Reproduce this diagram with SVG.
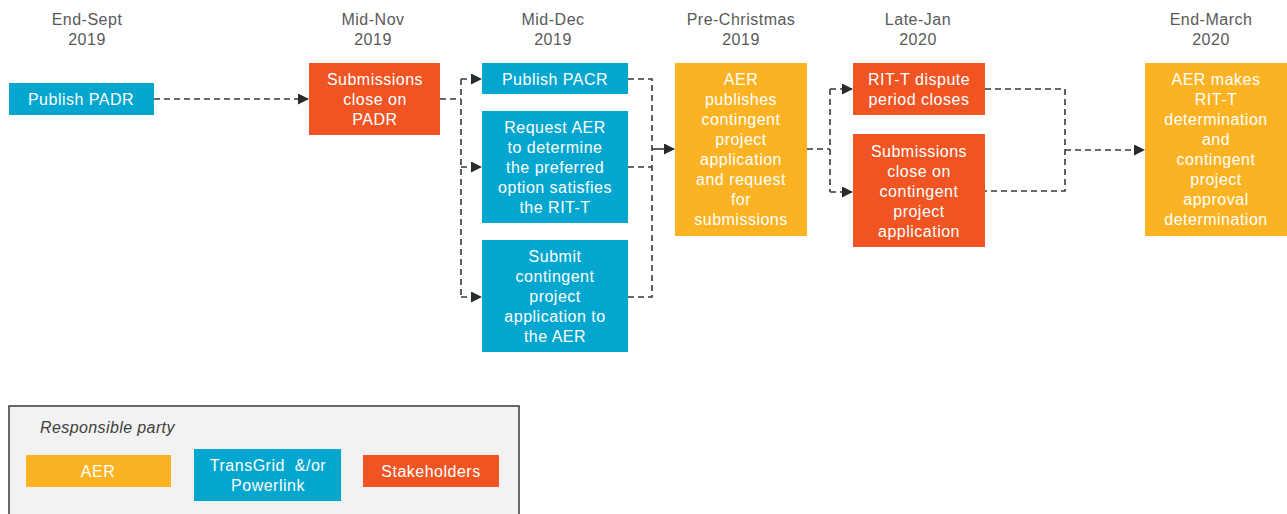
<svg xmlns="http://www.w3.org/2000/svg" width="1287" height="514" viewBox="0 0 1287 514">
<style>
.hdr{font-family:"Liberation Sans",Arial,sans-serif;font-size:16px;letter-spacing:0.5px;fill:#595959;text-anchor:middle}
.bt{font-family:"Liberation Sans",Arial,sans-serif;font-size:16px;letter-spacing:0.5px;fill:#ffffff;text-anchor:middle}
.blue{fill:#02A6CF}
.red{fill:#F15423}
.yel{fill:#FBB323}
.dash{fill:none;stroke:#333a40;stroke-width:1.6;stroke-dasharray:6 4}
.solid{fill:none;stroke:#333a40;stroke-width:1.6}
.leg{font-family:"Liberation Sans",Arial,sans-serif;font-size:16px;letter-spacing:0.4px;font-style:italic;fill:#404040}
</style>
<defs>
<marker id="ah" markerWidth="11" markerHeight="11" refX="10" refY="5.5" orient="auto" markerUnits="userSpaceOnUse">
<path d="M0,0 L11,5.5 L0,11 Z" fill="#262b30"/>
</marker>
</defs>
<rect width="1287" height="514" fill="#ffffff"/>
<g id="headers">
<text class="hdr" x="87" y="25">End-Sept</text><text class="hdr" x="87" y="45">2019</text>
<text class="hdr" x="373" y="25">Mid-Nov</text><text class="hdr" x="373" y="45">2019</text>
<text class="hdr" x="553" y="25">Mid-Dec</text><text class="hdr" x="553" y="45">2019</text>
<text class="hdr" x="741" y="25">Pre-Christmas</text><text class="hdr" x="741" y="45">2019</text>
<text class="hdr" x="918" y="45">2020</text><text class="hdr" x="918" y="25">Late-Jan</text>
<text class="hdr" x="1211" y="25">End-March</text><text class="hdr" x="1211" y="45">2020</text>
</g>
<g id="connectors">
<path class="dash" d="M154,99 H308" marker-end="url(#ah)"/>
<path class="dash" d="M440,99 H461"/>
<path class="dash" d="M461,79 V297"/>
<path class="dash" d="M461,79 H481" marker-end="url(#ah)"/>
<path class="dash" d="M461,167 H481" marker-end="url(#ah)"/>
<path class="dash" d="M461,297 H481" marker-end="url(#ah)"/>
<path class="dash" d="M628,79 H652 V297 H628"/>
<path class="dash" d="M628,167 H652"/>
<path class="solid" d="M652,149 H674" marker-end="url(#ah)"/>
<path class="dash" d="M807,149 H830"/>
<path class="dash" d="M830,89 V192"/>
<path class="dash" d="M830,89 H852" marker-end="url(#ah)"/>
<path class="dash" d="M830,192 H852" marker-end="url(#ah)"/>
<path class="dash" d="M985,89 H1065 V191 H985"/>
<path class="dash" d="M1065,150 H1144" marker-end="url(#ah)"/>
</g>
<g id="n_publish_padr">
<rect class="blue" x="9" y="83" width="145" height="32"/>
<text class="bt" x="81" y="105">Publish PADR</text>
</g>
<g id="n_sub_padr">
<rect class="red" x="309" y="63" width="131" height="72"/>
<text class="bt" x="375" y="85">Submissions</text>
<text class="bt" x="375" y="105">close on</text>
<text class="bt" x="375" y="125">PADR</text>
</g>
<g id="n_publish_pacr">
<rect class="blue" x="482" y="63" width="146" height="31"/>
<text class="bt" x="555" y="85">Publish PACR</text>
</g>
<g id="n_request_aer">
<rect class="blue" x="482" y="111" width="146" height="112"/>
<text class="bt" x="555" y="133">Request AER</text>
<text class="bt" x="555" y="153">to determine</text>
<text class="bt" x="555" y="173">the preferred</text>
<text class="bt" x="555" y="193">option satisfies</text>
<text class="bt" x="555" y="213">the RIT-T</text>
</g>
<g id="n_submit_cpa">
<rect class="blue" x="482" y="240" width="146" height="112"/>
<text class="bt" x="555" y="262">Submit</text>
<text class="bt" x="555" y="282">contingent</text>
<text class="bt" x="555" y="302">project</text>
<text class="bt" x="555" y="322">application to</text>
<text class="bt" x="555" y="342">the AER</text>
</g>
<g id="n_aer_publishes">
<rect class="yel" x="675" y="63" width="132" height="173"/>
<text class="bt" x="741" y="85">AER</text>
<text class="bt" x="741" y="105">publishes</text>
<text class="bt" x="741" y="125">contingent</text>
<text class="bt" x="741" y="145">project</text>
<text class="bt" x="741" y="165">application</text>
<text class="bt" x="741" y="185">and request</text>
<text class="bt" x="741" y="205">for</text>
<text class="bt" x="741" y="225">submissions</text>
</g>
<g id="n_ritt_dispute">
<rect class="red" x="853" y="63" width="132" height="52"/>
<text class="bt" x="919" y="85">RIT-T dispute</text>
<text class="bt" x="919" y="105">period closes</text>
</g>
<g id="n_sub_cpa">
<rect class="red" x="853" y="134" width="132" height="113"/>
<text class="bt" x="919" y="157">Submissions</text>
<text class="bt" x="919" y="177">close on</text>
<text class="bt" x="919" y="197">contingent</text>
<text class="bt" x="919" y="217">project</text>
<text class="bt" x="919" y="237">application</text>
</g>
<g id="n_aer_makes">
<rect class="yel" x="1145" y="63" width="142" height="173"/>
<text class="bt" x="1216" y="85">AER makes</text>
<text class="bt" x="1216" y="105">RIT-T</text>
<text class="bt" x="1216" y="125">determination</text>
<text class="bt" x="1216" y="145">and</text>
<text class="bt" x="1216" y="165">contingent</text>
<text class="bt" x="1216" y="185">project</text>
<text class="bt" x="1216" y="205">approval</text>
<text class="bt" x="1216" y="225">determination</text>
</g>
<g id="legend">
<rect x="9" y="406" width="510" height="120" fill="#F2F2F2" stroke="#3a3a3a" stroke-width="1.5"/>
<text class="leg" x="40" y="433">Responsible party</text>
<rect class="yel" x="26" y="455" width="145" height="32"/>
<text class="bt" x="98" y="477">AER</text>
<rect class="blue" x="194" y="449" width="147" height="52"/>
<text class="bt" x="268" y="471">TransGrid&#160; &amp;/or</text>
<text class="bt" x="268" y="491">Powerlink</text>
<rect class="red" x="363" y="455" width="136" height="32"/>
<text class="bt" x="431" y="477">Stakeholders</text>
</g>
</svg>
